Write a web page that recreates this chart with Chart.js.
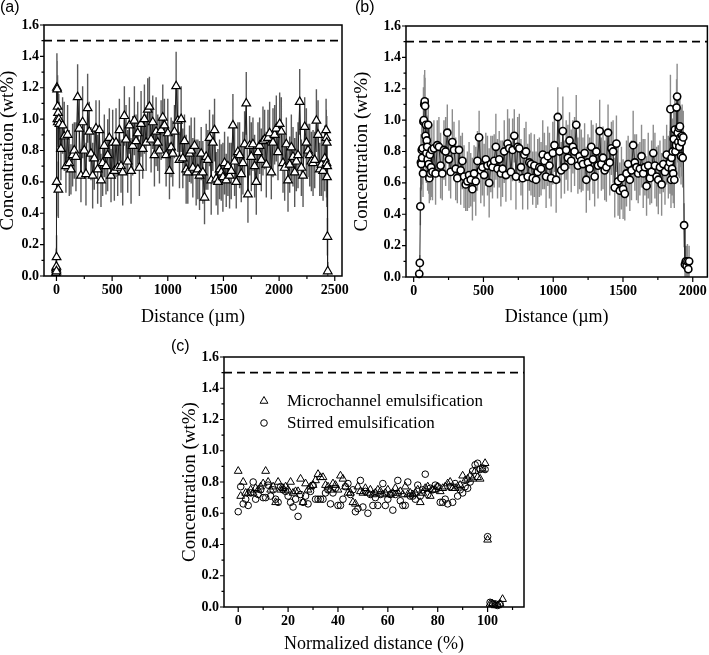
<!DOCTYPE html>
<html>
<head>
<meta charset="utf-8">
<title>Concentration profiles</title>
<script src="https://cdn.jsdelivr.net/npm/chart.js@4.4.1/dist/chart.umd.min.js"></script>
<style>
  body { margin: 0; background: #fff; }
  #page { position: relative; width: 709px; height: 655px; overflow: hidden; }
  #page canvas { position: absolute; }
  .tag { position: absolute; font: 16px/16px "Liberation Sans", Arial, sans-serif; color: #000; }
</style>
</head>
<body>
<div id="page">
  <canvas id="chartA" width="355" height="330" style="left:-1px;top:0"></canvas>
  <canvas id="chartB" width="360" height="330" style="left:353px;top:0"></canvas>
  <canvas id="chartC" width="528" height="325" style="left:181px;top:330px"></canvas>
  <div class="tag" style="left:0;top:-1px">(a)</div>
  <div class="tag" style="left:355px;top:-1px">(b)</div>
  <div class="tag" style="left:171px;top:338px">(c)</div>
</div>
<script>
// (a) microchannel emulsification: distance (um), concentration (wt%), error
const distA = [
  -4, -3, -2, -1, 0, 1, 2, 4, 6, 8, 10, 12, 14, 17, 21, 26,
  40, 55, 70, 85, 100, 115, 130, 145, 160, 175,
  190, 205, 220, 235, 250, 265, 280, 295, 310, 325,
  340, 355, 370, 385, 400, 415, 430, 445, 460, 475,
  490, 505, 520, 535, 550, 565, 580, 595, 610, 625,
  640, 655, 670, 685, 700, 715, 730, 745, 760, 775,
  790, 805, 820, 835, 850, 865, 880, 895, 910, 925,
  940, 955, 970, 985, 1000, 1015, 1030, 1045, 1060, 1075,
  1090, 1105, 1120, 1135, 1150, 1165, 1180, 1195, 1210, 1225,
  1240, 1255, 1270, 1285, 1300, 1315, 1330, 1345, 1360, 1375,
  1390, 1405, 1420, 1435, 1450, 1465, 1480, 1495, 1510, 1525,
  1540, 1555, 1570, 1585, 1600, 1615, 1630, 1645, 1660, 1675,
  1690, 1705, 1720, 1735, 1750, 1765, 1780, 1795, 1810, 1825,
  1840, 1855, 1870, 1885, 1900, 1915, 1930, 1945, 1960, 1975,
  1990, 2005, 2020, 2035, 2050, 2065, 2080, 2095, 2110, 2125,
  2140, 2155, 2170, 2185, 2200, 2215, 2230, 2245, 2260, 2275,
  2290, 2305, 2320, 2335, 2350, 2365, 2380, 2395, 2410,
  2422, 2424, 2426, 2428, 2430, 2432, 2434, 2437
];
const concA = [
  0.02, 0.05, 0.04, 0.06, 0.03, 0.12, 0.60, 1.20, 1.19, 1.00, 1.08, 0.98, 1.04, 0.55, 1.00, 0.97,
  0.81, 0.96, 0.89, 0.70, 0.90, 0.72, 0.68, 0.77, 0.80, 0.76,
  1.14, 0.94, 0.64, 0.98, 0.80, 0.65, 1.07, 0.92, 0.78, 0.64,
  0.75, 0.94, 0.68, 0.93, 0.61, 0.72, 0.83, 0.70, 0.77, 0.88,
  0.64, 0.85, 0.67, 0.85, 0.69, 0.93, 0.70, 0.66, 1.02, 0.87,
  0.73, 0.96, 0.67, 0.83, 0.99, 0.86, 0.91, 0.69, 0.97, 0.81,
  1.00, 0.85, 1.06, 1.08, 0.87, 0.98, 0.77, 0.92, 0.85, 0.80,
  0.93, 1.01, 0.96, 0.77, 0.91, 0.67, 0.82, 0.78, 0.92, 1.21,
  0.99, 0.74, 1.00, 0.75, 0.86, 0.68, 0.66, 0.78, 0.80, 0.69,
  0.83, 0.66, 0.68, 0.64, 0.78, 0.66, 0.50, 0.76, 0.74, 0.88,
  0.61, 0.85, 0.93, 0.62, 0.60, 0.68, 0.66, 0.63, 0.72, 0.61,
  0.70, 0.64, 0.67, 0.96, 0.73, 0.60, 0.79, 0.77, 0.65, 0.72,
  0.84, 1.10, 0.52, 0.83, 0.76, 0.84, 0.70, 0.60, 0.79, 0.83,
  0.74, 0.86, 0.87, 0.71, 0.88, 0.91, 0.66, 0.85, 0.90, 0.94,
  0.79, 0.97, 0.92, 0.72, 0.69, 0.84, 0.61, 0.71, 0.82, 0.76,
  0.66, 0.73, 0.77, 1.11, 0.69, 0.64, 0.95, 0.85, 0.80, 0.77,
  0.73, 0.72, 0.74, 0.99, 0.90, 0.68, 0.71, 0.67, 0.75,
  0.93, 0.88, 0.72, 0.85, 0.63, 0.70, 0.25, 0.03
];
const errA = [
  0.10, 0.12, 0.08, 0.12, 0.06, 0.14, 0.22, 0.22, 0.18, 0.16, 0.20, 0.16, 0.18, 0.18, 0.16, 0.14,
  0.20, 0.18, 0.22, 0.17, 0.19, 0.21, 0.16, 0.20, 0.18, 0.22,
  0.21, 0.19, 0.17, 0.23, 0.18, 0.20, 0.22, 0.19, 0.17, 0.21,
  0.20, 0.18, 0.22, 0.19, 0.17, 0.21, 0.20, 0.18, 0.23, 0.19,
  0.17, 0.21, 0.19, 0.22, 0.18, 0.20, 0.17, 0.21, 0.19, 0.22,
  0.20, 0.18, 0.21, 0.19, 0.22, 0.17, 0.20, 0.18, 0.21, 0.19,
  0.22, 0.18, 0.20, 0.19, 0.21, 0.17, 0.20, 0.22, 0.18, 0.21,
  0.19, 0.21, 0.17, 0.20, 0.22, 0.18, 0.19, 0.21, 0.17, 0.22,
  0.20, 0.18, 0.21, 0.19, 0.17, 0.22, 0.20, 0.18, 0.21, 0.19,
  0.18, 0.21, 0.19, 0.22, 0.17, 0.20, 0.17, 0.21, 0.19, 0.18,
  0.22, 0.18, 0.20, 0.17, 0.21, 0.19, 0.18, 0.22, 0.20, 0.17,
  0.19, 0.21, 0.18, 0.20, 0.22, 0.17, 0.19, 0.21, 0.18, 0.20,
  0.21, 0.20, 0.18, 0.19, 0.22, 0.17, 0.20, 0.21, 0.19, 0.18,
  0.20, 0.22, 0.19, 0.21, 0.18, 0.20, 0.17, 0.22, 0.19, 0.21,
  0.18, 0.20, 0.22, 0.19, 0.21, 0.17, 0.20, 0.18, 0.21, 0.19,
  0.22, 0.19, 0.21, 0.21, 0.18, 0.20, 0.19, 0.22, 0.17, 0.20,
  0.19, 0.21, 0.18, 0.20, 0.22, 0.17, 0.20, 0.19, 0.21,
  0.20, 0.18, 0.22, 0.17, 0.19, 0.21, 0.12, 0.06
];

// (b) stirred emulsification
const distB = [
  40, 44, 48, 52, 55, 58, 61, 64, 67, 70, 73, 76, 79, 82, 85, 88, 91, 94, 97, 100,
  104, 108, 112, 116, 120, 125, 130, 135,
  145, 157, 169, 181, 193, 205, 217, 229, 241, 253,
  265, 277, 289, 301, 313, 325, 337, 349, 361, 373,
  385, 397, 409, 421, 433, 445, 457, 469, 481, 493,
  505, 517, 529, 541, 553, 565, 577, 589, 601, 613,
  625, 637, 649, 661, 673, 685, 697, 709, 721, 733,
  745, 757, 769, 781, 793, 805, 817, 829, 841, 853,
  865, 877, 889, 901, 913, 925, 937, 949, 961, 973,
  985, 997, 1009, 1021, 1033, 1045, 1057, 1069, 1081, 1093,
  1105, 1117, 1129, 1141, 1153, 1165, 1177, 1189, 1201, 1213,
  1225, 1237, 1249, 1261, 1273, 1285, 1297, 1309, 1321, 1333,
  1345, 1357, 1369, 1381, 1393, 1405, 1417, 1429, 1441, 1453,
  1465, 1477, 1489, 1501, 1513, 1525, 1537, 1549, 1561, 1573,
  1585, 1597, 1609, 1621, 1633, 1645, 1657, 1669, 1681, 1693,
  1705, 1717, 1729, 1741, 1753, 1765, 1777, 1789, 1801, 1813,
  1825,
  1836, 1840, 1844, 1848, 1852, 1856, 1860, 1864, 1868, 1872,
  1876, 1880, 1884, 1888, 1892, 1896, 1900, 1904, 1908, 1912,
  1916, 1920, 1924, 1928, 1932, 1938, 1944, 1950, 1956, 1962,
  1968, 1974
];
const concB = [
  0.02, 0.09, 0.45, 0.73, 0.72, 0.81, 0.76, 0.82, 0.66, 0.99, 1.00, 1.10, 1.12, 1.09, 0.90, 0.97, 0.79, 0.87, 0.83, 0.75,
  0.97, 0.72, 0.63, 0.78, 0.66, 0.70, 0.81, 0.67,
  0.82, 0.66, 0.84, 0.83, 0.71, 0.66, 0.81, 0.80, 0.92, 0.75,
  0.67, 0.86, 0.81, 0.69, 0.63, 0.81, 0.68, 0.74, 0.64, 0.59,
  0.61, 0.65, 0.62, 0.56, 0.66, 0.61, 0.74, 0.89, 0.68, 0.70,
  0.65, 0.75, 0.71, 0.60, 0.72, 0.70, 0.74, 0.83, 0.69, 0.75,
  0.66, 0.69, 0.80, 0.65, 0.85, 0.82, 0.67, 0.81, 0.90, 0.64,
  0.83, 0.82, 0.70, 0.63, 0.78, 0.80, 0.64, 0.73, 0.72, 0.63,
  0.71, 0.62, 0.67, 0.70, 0.69, 0.78, 0.74, 0.64, 0.77, 0.71,
  0.63, 0.79, 0.84, 0.62, 1.02, 0.80, 0.68, 0.93, 0.70, 0.81,
  0.76, 0.87, 0.74, 0.83, 0.80, 0.97, 0.71, 0.77, 0.74, 0.72,
  0.79, 0.62, 0.73, 0.69, 0.83, 0.75, 0.64, 0.80, 0.71, 0.93,
  0.72, 0.76, 0.68, 0.70, 0.92, 0.73, 0.82, 0.80, 0.57, 0.85,
  0.61, 0.55, 0.63, 0.56, 0.53, 0.66, 0.72, 0.62, 0.68, 0.84,
  0.73, 0.70, 0.66, 0.69, 0.77, 0.66, 0.70, 0.58, 0.71, 0.63,
  0.67, 0.79, 0.71, 0.64, 0.62, 0.70, 0.59, 0.72, 0.67, 0.78,
  0.70,
  0.73, 1.07, 0.62, 0.76, 0.69, 0.80, 0.66, 0.88, 0.62, 0.94,
  0.80, 0.84, 1.08, 1.15, 0.92, 0.86, 0.95, 0.83, 0.96, 0.89,
  0.77, 0.86, 0.90, 0.76, 0.89, 0.33, 0.08, 0.10, 0.07, 0.10,
  0.05, 0.10
];
const errB = [
  0.02, 0.05, 0.12, 0.18, 0.16, 0.20, 0.17, 0.19, 0.15, 0.22, 0.20, 0.19, 0.20, 0.18, 0.21, 0.17, 0.19, 0.16, 0.18, 0.20,
  0.17, 0.19, 0.16, 0.18, 0.17, 0.19, 0.16, 0.18,
  0.18, 0.20, 0.16, 0.19, 0.21, 0.17, 0.19, 0.22, 0.18, 0.20,
  0.17, 0.21, 0.18, 0.20, 0.16, 0.19, 0.22, 0.18, 0.20, 0.17,
  0.19, 0.21, 0.17, 0.20, 0.18, 0.22, 0.19, 0.17, 0.21, 0.18,
  0.20, 0.17, 0.19, 0.22, 0.18, 0.20, 0.17, 0.21, 0.19, 0.18,
  0.21, 0.18, 0.20, 0.17, 0.22, 0.19, 0.18, 0.20, 0.17, 0.21,
  0.19, 0.22, 0.18, 0.20, 0.17, 0.19, 0.21, 0.18, 0.20, 0.17,
  0.20, 0.18, 0.21, 0.19, 0.17, 0.22, 0.18, 0.20, 0.19, 0.21,
  0.18, 0.20, 0.17, 0.21, 0.19, 0.20, 0.18, 0.22, 0.17, 0.19,
  0.21, 0.18, 0.20, 0.17, 0.22, 0.19, 0.18, 0.21, 0.20, 0.17,
  0.19, 0.21, 0.18, 0.20, 0.17, 0.22, 0.19, 0.18, 0.21, 0.20,
  0.17, 0.20, 0.19, 0.22, 0.18, 0.21, 0.17, 0.20, 0.19, 0.18,
  0.22, 0.18, 0.20, 0.19, 0.17, 0.21, 0.18, 0.20, 0.19, 0.22,
  0.18, 0.21, 0.19, 0.17, 0.20, 0.22, 0.18, 0.19, 0.21, 0.17,
  0.20, 0.18, 0.21, 0.19, 0.22, 0.17, 0.20, 0.18, 0.21, 0.19,
  0.20,
  0.20, 0.22, 0.18, 0.20, 0.17, 0.21, 0.19, 0.22, 0.18, 0.20,
  0.19, 0.21, 0.18, 0.21, 0.19, 0.22, 0.18, 0.20, 0.21, 0.19,
  0.18, 0.22, 0.20, 0.19, 0.17, 0.14, 0.12, 0.10, 0.13, 0.11,
  0.08, 0.10
];

// (c) both methods against normalized distance (%)
const normPos = [
  0, 1, 2, 3, 4, 5, 6, 7, 8, 9, 10, 11, 12, 13, 14, 15, 16, 17, 18, 19,
  20, 21, 22, 23, 24, 25, 26, 27, 28, 29, 30, 31, 32, 33, 34, 35, 36, 37, 38, 39,
  40, 41, 42, 43, 44, 45, 46, 47, 48, 49, 50, 51, 52, 53, 54, 55, 56, 57, 58, 59,
  60, 61, 62, 63, 64, 65, 66, 67, 68, 69, 70, 71, 72, 73, 74, 75, 76, 77, 78, 79,
  80, 81, 82, 83, 84, 85, 86, 87, 88, 89, 90, 91, 92, 93, 94, 95, 96, 97, 98, 99,
  100, 101, 102, 103, 104, 105, 106
];
const concMicro = [
  0.87, 0.71, 0.80, 0.73, 0.73, 0.75, 0.73, 0.76, 0.75, 0.77,
  0.79, 0.87, 0.80, 0.75, 0.77, 0.67, 0.80, 0.75, 0.76, 0.77,
  0.75, 0.80, 0.73, 0.74, 0.74, 0.82, 0.67, 0.79, 0.75, 0.77,
  0.78, 0.81, 0.85, 0.83, 0.83, 0.78, 0.77, 0.75, 0.79, 0.78,
  0.75, 0.84, 0.82, 0.77, 0.73, 0.73, 0.67, 0.66, 0.77, 0.74,
  0.73, 0.76, 0.73, 0.75, 0.72, 0.73, 0.75, 0.74, 0.72, 0.73,
  0.75, 0.72, 0.73, 0.76, 0.73, 0.74, 0.72, 0.77, 0.72, 0.73,
  0.72, 0.73, 0.75, 0.67, 0.73, 0.76, 0.77, 0.71, 0.75, 0.75,
  0.77, 0.74, 0.76, 0.77, 0.79, 0.80, 0.76, 0.76, 0.77, 0.78,
  0.84, 0.81, 0.82, 0.84, 0.82, 0.87, 0.83, 0.82, 0.88, 0.92,
  0.43, 0.02, 0.02, 0.01, 0.01, 0.02, 0.05
];
const concStir = [
  0.61, 0.77, 0.66, 0.69, 0.65, 0.73, 0.80, 0.69, 0.72, 0.75,
  0.70, 0.70, 0.78, 0.71, 0.75, 0.69, 0.67, 0.77, 0.75, 0.74,
  0.71, 0.67, 0.64, 0.69, 0.58, 0.72, 0.67, 0.71, 0.66, 0.74,
  0.78, 0.69, 0.69, 0.69, 0.69, 0.73, 0.75, 0.66, 0.73, 0.76,
  0.65, 0.65, 0.69, 0.77, 0.79, 0.72, 0.75, 0.61, 0.63, 0.81,
  0.64, 0.74, 0.60, 0.72, 0.65, 0.70, 0.65, 0.72, 0.79, 0.65,
  0.69, 0.72, 0.62, 0.72, 0.81, 0.68, 0.65, 0.65, 0.80, 0.71,
  0.71, 0.69, 0.78, 0.71, 0.75, 0.85, 0.72, 0.76, 0.75, 0.78,
  0.77, 0.67, 0.67, 0.69, 0.66, 0.77, 0.67, 0.79, 0.71, 0.75,
  0.73, 0.77, 0.76, 0.80, 0.87, 0.91, 0.92, 0.88, 0.89, 0.88,
  0.45, 0.03, 0.02, 0.02, 0.01, 0.02
];
const seriesNames = ['Microchannel emulsification', 'Stirred emulsification'];

const refLevel = 1.5;  // dashed line
const yTicks = [0, 0.2, 0.4, 0.6, 0.8, 1.0, 1.2, 1.4, 1.6];
const yMinor = [0.1, 0.3, 0.5, 0.7, 0.9, 1.1, 1.3, 1.5];
const xTicksA = [0, 500, 1000, 1500, 2000, 2500];
const xMinorA = [250, 750, 1250, 1750, 2250];
const xTicksB = [0, 500, 1000, 1500, 2000];
const xMinorB = [250, 750, 1250, 1750];
const xTicksC = [0, 20, 40, 60, 80, 100];
const xMinorC = [10, 30, 50, 70, 90, 110];

Chart.defaults.font.family = '"Liberation Serif", "Times New Roman", serif';
Chart.defaults.color = '#000';

const tickFont = { size: 14, weight: 'bold' };

// error bars under the markers, box frame, outward ticks, legend
function panelDeco(p) {
  return {
    id: 'panelDeco',
    beforeDatasetsDraw(chart) {
      const { ctx, chartArea: a, scales: { x, y } } = chart;
      p.series.forEach(s => {
        if (!s.err) return;
        ctx.save();
        ctx.beginPath();
        ctx.rect(a.left, a.top, a.right - a.left, a.bottom - a.top);
        ctx.clip();
        ctx.strokeStyle = s.errColor;
        ctx.lineWidth = 1.4;
        ctx.beginPath();
        s.xs.forEach((v, i) => {
          const px = x.getPixelForValue(v);
          ctx.moveTo(px, y.getPixelForValue(s.ys[i] - s.err[i]));
          ctx.lineTo(px, y.getPixelForValue(s.ys[i] + s.err[i]));
        });
        ctx.stroke();
        ctx.restore();
      });
    },
    afterDatasetsDraw(chart) {
      const { ctx, chartArea: a, scales: { x, y } } = chart;
      ctx.save();
      ctx.strokeStyle = '#000';
      ctx.lineWidth = 1.2;
      ctx.beginPath();
      p.xTicks.forEach(v => { const px = x.getPixelForValue(v); ctx.moveTo(px, a.bottom); ctx.lineTo(px, a.bottom + 5); });
      p.xMinor.forEach(v => { const px = x.getPixelForValue(v); ctx.moveTo(px, a.bottom); ctx.lineTo(px, a.bottom + 3); });
      yTicks.forEach(v => { const py = y.getPixelForValue(v); ctx.moveTo(a.left, py); ctx.lineTo(a.left - 4, py); });
      yMinor.forEach(v => { const py = y.getPixelForValue(v); ctx.moveTo(a.left, py); ctx.lineTo(a.left - 2.5, py); });
      ctx.stroke();
      ctx.lineWidth = 1.5;
      ctx.strokeRect(a.left, a.top, a.right - a.left, a.bottom - a.top);

      if (p.legend) {
        ctx.font = '17px "Liberation Serif", serif';
        ctx.fillStyle = '#000';
        ctx.textAlign = 'left';
        ctx.textBaseline = 'middle';
        p.legend.forEach((name, k) => {
          const s = p.series[k];
          const cx = a.left + 40, cy = a.top + 44 + 22 * k;
          ctx.lineWidth = s.bw;
          ctx.beginPath();
          if (s.style === 'triangle') {
            for (let j = 0; j < 3; j++) {
              const ang = j * 2 * Math.PI / 3;
              ctx.lineTo(cx + Math.sin(ang) * s.r, cy - Math.cos(ang) * s.r);
            }
            ctx.closePath();
          } else {
            ctx.arc(cx, cy, s.r, 0, 2 * Math.PI);
          }
          ctx.stroke();
          ctx.fillText(name, a.left + 63, cy + 1);
        });
      }
      ctx.restore();
    }
  };
}

function buildPanel(canvasId, p) {
  const datasets = p.series.map(s => ({
    data: s.xs.map((v, i) => ({ x: v, y: s.ys[i] })),
    showLine: s.line,
    borderColor: s.lineColor || '#000',
    borderWidth: 1,
    pointStyle: s.style,
    pointRadius: s.r,
    pointBorderWidth: s.bw,
    pointBorderColor: '#000',
    pointBackgroundColor: s.fill,
    clip: false
  }));
  datasets.push({
    data: [{ x: p.xMin, y: refLevel }, { x: p.xMax, y: refLevel }],
    showLine: true,
    borderColor: '#000',
    borderWidth: 1.8,
    borderDash: [8, 5],
    pointRadius: 0
  });

  return new Chart(document.getElementById(canvasId), {
    type: 'scatter',
    data: { datasets },
    options: {
      responsive: false,
      animation: false,
      events: [],
      layout: { padding: p.pad },
      elements: { line: { tension: 0 } },
      plugins: { legend: { display: false }, tooltip: { enabled: false } },
      scales: {
        x: {
          type: 'linear', min: p.xMin, max: p.xMax,
          afterBuildTicks: s => { s.ticks = p.xTicks.map(v => ({ value: v })); },
          ticks: { font: tickFont, color: '#000', padding: 1, maxRotation: 0, autoSkip: false, callback: v => String(v) },
          grid: { display: false, tickLength: 5 },
          border: { display: false },
          title: { display: true, text: p.xTitle, color: '#000', font: { size: 18, lineHeight: 1 }, padding: { top: 0, bottom: p.xTitlePad } },
          afterFit: s => { s.height = p.xAxisH; s.paddingLeft = 0; s.paddingRight = 0; }
        },
        y: {
          type: 'linear', min: 0, max: 1.6,
          afterBuildTicks: s => { s.ticks = yTicks.map(v => ({ value: v })); },
          ticks: { font: tickFont, color: '#000', padding: 1, autoSkip: false, callback: v => v.toFixed(1) },
          grid: { display: false, tickLength: 4 },
          border: { display: false },
          title: { display: true, text: 'Concentration (wt%)', color: '#000', font: { size: 19, lineHeight: 1 }, padding: { top: 0, bottom: 0 } },
          afterFit: s => { s.width = p.yAxisW; s.paddingTop = 0; s.paddingBottom = 0; }
        }
      }
    },
    plugins: [panelDeco(p)]
  });
}

buildPanel('chartA', {
  xMin: -112, xMax: 2565, xTicks: xTicksA, xMinor: xMinorA,
  xTitle: 'Distance (\u00b5m)', xTitlePad: 4,
  pad: { left: 0, right: 12, top: 25, bottom: 0 }, yAxisW: 45, xAxisH: 54,
  series: [{ xs: distA, ys: concA, err: errA, errColor: '#5a5a5a', line: true, lineColor: '#1e1e1e',
             style: 'triangle', r: 5, bw: 1.2, fill: '#fff' }]
});

buildPanel('chartB', {
  xMin: -55, xMax: 2105, xTicks: xTicksB, xMinor: xMinorB,
  xTitle: 'Distance (\u00b5m)', xTitlePad: 4,
  pad: { left: 0, right: 5, top: 26, bottom: 0 }, yAxisW: 53, xAxisH: 53,
  series: [{ xs: distB, ys: concB, err: errB, errColor: '#8c8c8c', line: true, lineColor: '#2a2a2a',
             style: 'circle', r: 3.6, bw: 1.6, fill: '#fff' }]
});

buildPanel('chartC', {
  xMin: -5.7, xMax: 114.6, xTicks: xTicksC, xMinor: xMinorC,
  xTitle: 'Normalized distance (%)', xTitlePad: 1.5,
  pad: { left: 0, right: 185, top: 27, bottom: 0 }, yAxisW: 43, xAxisH: 48,
  legend: seriesNames,
  series: [
    { xs: normPos, ys: concMicro, line: false, style: 'triangle', r: 4.5, bw: 1, fill: 'rgba(0,0,0,0)' },
    { xs: normPos.slice(0, concStir.length), ys: concStir, line: false, style: 'circle', r: 3.3, bw: 1, fill: 'rgba(0,0,0,0)' }
  ]
});
</script>
</body>
</html>
